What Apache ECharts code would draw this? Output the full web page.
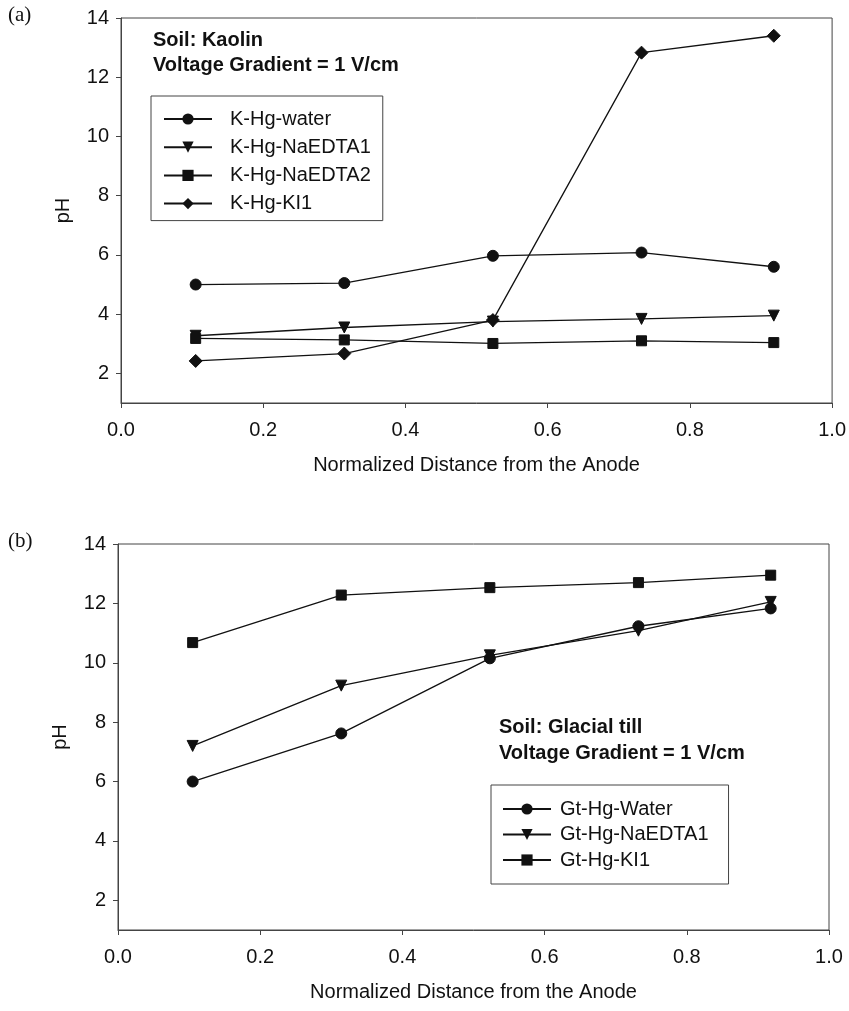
<!DOCTYPE html>
<html>
<head>
<meta charset="utf-8">
<script src="https://cdn.jsdelivr.net/npm/echarts@6/dist/echarts.min.js"></script>
<style>
html,body{margin:0;padding:0;background:#fff;}
#c{width:849px;height:1011px;}
</style>
</head>
<body>
<div id="c"></div>
<script>
// Shared x positions (normalized distance from the anode)
const xPos = [0.105, 0.314, 0.523, 0.732, 0.918];
const xTicks = [0.0, 0.2, 0.4, 0.6, 0.8, 1.0];
const yTicks = [2, 4, 6, 8, 10, 12, 14];

// Panel (a): Kaolin
const namesA = ['K-Hg-water', 'K-Hg-NaEDTA1', 'K-Hg-NaEDTA2', 'K-Hg-KI1'];
const kWater   = [5.00, 5.05, 5.97, 6.08, 5.60];
const kNaEDTA1 = [3.27, 3.55, 3.75, 3.84, 3.95];
const kNaEDTA2 = [3.18, 3.13, 3.01, 3.10, 3.04];
const kKI1     = [2.42, 2.67, 3.80, 12.83, 13.40];

// Panel (b): Glacial till
const namesB = ['Gt-Hg-Water', 'Gt-Hg-NaEDTA1', 'Gt-Hg-KI1'];
const gtWater   = [6.00, 7.62, 10.15, 11.23, 11.83];
const gtNaEDTA1 = [7.20, 9.23, 10.25, 11.08, 12.05];
const gtKI1     = [10.68, 12.28, 12.53, 12.70, 12.95];

const FONT = 'Liberation Sans, Arial, sans-serif';
const pair = arr => xPos.map((x, i) => [x, arr[i]]);

function xAxisCfg(gi) {
  return {
    gridIndex: gi, type: 'value', min: 0, max: 1,
    name: 'Normalized Distance from the Anode', nameLocation: 'middle', nameGap: 52,
    nameTextStyle: {fontFamily: FONT, fontSize: 20, color: '#111'},
    axisLine: {show: true, lineStyle: {color: '#444', width: 1}},
    axisTick: {show: true, inside: false, length: 5, customValues: xTicks, lineStyle: {color: '#444'}},
    axisLabel: {customValues: xTicks, formatter: v => v.toFixed(1), fontFamily: FONT, fontSize: 20, color: '#111', margin: 17},
    splitLine: {show: false}
  };
}
function yAxisCfg(gi) {
  return {
    gridIndex: gi, type: 'value', min: 1, max: 14,
    name: 'pH', nameLocation: 'middle', nameGap: 48, nameRotate: 90,
    nameTextStyle: {fontFamily: FONT, fontSize: 20, color: '#111'},
    axisLine: {show: true, lineStyle: {color: '#444', width: 1}},
    axisTick: {show: true, inside: false, length: 5, customValues: yTicks, lineStyle: {color: '#444'}},
    axisLabel: {customValues: yTicks, fontFamily: FONT, fontSize: 20, color: '#111', margin: 12},
    splitLine: {show: false}
  };
}
function ser(name, data, gi, symbol, size) {
  const s = {
    name, type: 'line', xAxisIndex: gi, yAxisIndex: gi, data: pair(data),
    symbol, symbolSize: size, showSymbol: true,
    lineStyle: {color: '#111', width: 1.3},
    itemStyle: {color: '#111', borderColor: '#111'},
    animation: false, z: 3
  };
  if (symbol === 'triangle') s.symbolRotate = 180;
  return s;
}

const chart = echarts.init(document.getElementById('c'), null, {renderer: 'canvas'});
chart.setOption({
  backgroundColor: '#fff',
  animation: false,
  grid: [
    {left: 121, top: 18, width: 712, height: 385, show: true, borderColor: '#444', borderWidth: 1, backgroundColor: 'transparent'},
    {left: 118, top: 544, width: 711, height: 386, show: true, borderColor: '#444', borderWidth: 1, backgroundColor: 'transparent'}
  ],
  xAxis: [xAxisCfg(0), xAxisCfg(1)],
  yAxis: [yAxisCfg(0), yAxisCfg(1)],
  legend: [
    {
      data: namesA, orient: 'vertical', left: 151, top: 96,
      itemWidth: 48, itemHeight: 14, itemGap: 8.2,
      padding: [13, 12, 7, 12],
      borderColor: '#444', borderWidth: 1, backgroundColor: '#fff',
      textStyle: {fontFamily: FONT, fontSize: 20, color: '#111', padding: [0, 0, 0, 13]},
      selectedMode: false
    },
    {
      data: namesB, orient: 'vertical', left: 491, top: 785,
      itemWidth: 48, itemHeight: 14, itemGap: 5.5,
      padding: [14, 20, 14, 11],
      borderColor: '#444', borderWidth: 1, backgroundColor: '#fff',
      textStyle: {fontFamily: FONT, fontSize: 20, color: '#111', padding: [0, 0, 0, 4]},
      selectedMode: false
    }
  ],
  series: [
    ser(namesA[0], kWater, 0, 'circle', 11),
    ser(namesA[1], kNaEDTA1, 0, 'triangle', 11),
    ser(namesA[2], kNaEDTA2, 0, 'rect', 10),
    ser(namesA[3], kKI1, 0, 'diamond', 13),
    ser(namesB[0], gtWater, 1, 'circle', 11),
    ser(namesB[1], gtNaEDTA1, 1, 'triangle', 11),
    ser(namesB[2], gtKI1, 1, 'rect', 10)
  ],
  graphic: [
    {type: 'text', left: 8, top: 5, style: {text: '(a)', font: '21px "Liberation Serif", "Times New Roman", serif', fill: '#111'}},
    {type: 'text', left: 8, top: 531, style: {text: '(b)', font: '21px "Liberation Serif", "Times New Roman", serif', fill: '#111'}},
    {type: 'text', left: 153, top: 30, style: {text: 'Soil: Kaolin', font: 'bold 20px "Liberation Sans", Arial, sans-serif', fill: '#111'}},
    {type: 'text', left: 153, top: 55, style: {text: 'Voltage Gradient = 1 V/cm', font: 'bold 20px "Liberation Sans", Arial, sans-serif', fill: '#111'}},
    {type: 'text', left: 499, top: 717, style: {text: 'Soil: Glacial till', font: 'bold 20px "Liberation Sans", Arial, sans-serif', fill: '#111'}},
    {type: 'text', left: 499, top: 743, style: {text: 'Voltage Gradient = 1 V/cm', font: 'bold 20px "Liberation Sans", Arial, sans-serif', fill: '#111'}}
  ]
});
</script>
</body>
</html>
